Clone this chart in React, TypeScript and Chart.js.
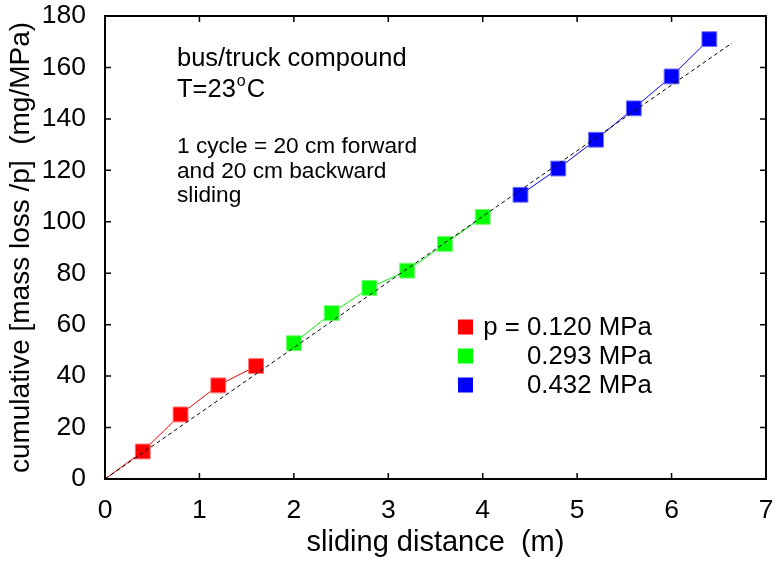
import React, { useEffect, useRef } from "react";
import { Chart, registerables } from "chart.js";

Chart.register(...registerables);

// ---- data ----
const xTickValues = [0, 1, 2, 3, 4, 5, 6, 7];
const yTickValues = [0, 20, 40, 60, 80, 100, 120, 140, 160, 180];

const redX = [0, 0.4, 0.8, 1.2, 1.6];
const redY = [0, 10.7, 25.1, 36.4, 43.9];

const greenX = [2.0, 2.4, 2.8, 3.2, 3.6, 4.0];
const greenY = [52.8, 64.5, 74.3, 81.0, 91.4, 101.9];

const blueX = [4.4, 4.8, 5.2, 5.6, 6.0, 6.4];
const blueY = [110.5, 120.7, 131.9, 144.1, 156.5, 171.0];

const fitX = [0, 6.64];
const fitY = [0, 169.5];

const seriesLabels = ["p = 0.120 MPa", "0.293 MPa", "0.432 MPa"];
const noteTop = ["bus/truck compound"];
const noteTemp = ["T=23", "o", "C"];
const noteCycle = ["1 cycle = 20 cm forward", "and 20 cm backward", "sliding"];

const xTitle = "sliding distance  (m)";
const yTitle = "cumulative [mass loss /p]  (mg/MPa)";

const FONT = "'Liberation Sans', Arial, Helvetica, sans-serif";

const toPts = (xs: number[], ys: number[]) => xs.map((x, i) => ({ x, y: ys[i] }));

const framePlugin = {
  id: "frameTicks",
  afterDatasetsDraw(chart: any) {
    const { ctx, chartArea, scales } = chart;
    const { left, right, top, bottom } = chartArea;
    ctx.save();
    ctx.strokeStyle = "#000";
    ctx.lineWidth = 1.5;
    const tl = 6;
    ctx.beginPath();
    xTickValues.forEach((v) => {
      const px = scales.x.getPixelForValue(v);
      if (v === xTickValues[0] || v === xTickValues[xTickValues.length - 1]) return;
      ctx.moveTo(px, bottom);
      ctx.lineTo(px, bottom - tl);
      ctx.moveTo(px, top);
      ctx.lineTo(px, top + tl);
    });
    yTickValues.forEach((v) => {
      const py = scales.y.getPixelForValue(v);
      if (v === yTickValues[0] || v === yTickValues[yTickValues.length - 1]) return;
      ctx.moveTo(left, py);
      ctx.lineTo(left + tl, py);
      ctx.moveTo(right, py);
      ctx.lineTo(right - tl, py);
    });
    ctx.stroke();
    ctx.lineWidth = 2;
    ctx.strokeRect(left, top, right - left, bottom - top);
    ctx.restore();
  },
};

const notesPlugin = {
  id: "notes",
  afterDraw(chart: any) {
    const { ctx } = chart;
    ctx.save();
    ctx.fillStyle = "#000";
    ctx.textBaseline = "alphabetic";
    ctx.textAlign = "left";
    const x0 = 177;
    ctx.font = `25.5px ${FONT}`;
    ctx.fillText(noteTop[0], x0, 66);
    // T=23°C with superscript o
    ctx.fillText(noteTemp[0], x0, 97);
    const w1 = ctx.measureText(noteTemp[0]).width;
    ctx.font = `16px ${FONT}`;
    ctx.fillText(noteTemp[1], x0 + w1 + 1, 86);
    const w2 = ctx.measureText(noteTemp[1]).width;
    ctx.font = `25.5px ${FONT}`;
    ctx.fillText(noteTemp[2], x0 + w1 + w2 + 2, 97);

    ctx.font = `22.7px ${FONT}`;
    const baselines = [153, 178, 202];
    noteCycle.forEach((t, i) => ctx.fillText(t, x0, baselines[i]));

    // legend
    const colors = ["#ff0000", "#00ff00", "#0000ff"];
    const rowsY = [327, 356, 385];
    const numX = 527;
    ctx.font = `25.8px ${FONT}`;
    ctx.textBaseline = "middle";
    seriesLabels.forEach((lab, i) => {
      ctx.fillStyle = colors[i];
      ctx.fillRect(458, rowsY[i] - 7.5, 15, 15);
      ctx.fillStyle = "#000";
      const m = lab.match(/^(.*?)(\d.*)$/);
      const pre = m ? m[1] : "";
      const num = m ? m[2] : lab;
      if (pre) {
        ctx.textAlign = "right";
        ctx.fillText(pre, numX, rowsY[i] + 1);
      }
      ctx.textAlign = "left";
      ctx.fillText(num, numX, rowsY[i] + 1);
    });
    ctx.restore();
  },
};

export default function App() {
  const ref = useRef<HTMLCanvasElement | null>(null);

  useEffect(() => {
    const canvas = ref.current;
    if (!canvas) return;
    const R = 10.5;
    const chart = new Chart(canvas, {
      type: "scatter",
      data: {
        datasets: [
          {
            label: "fit",
            data: toPts(fitX, fitY),
            showLine: true,
            borderColor: "#000",
            borderWidth: 1,
            borderDash: [4, 3],
            pointRadius: 0,
          },
          {
            label: seriesLabels[0],
            data: toPts(redX, redY),
            showLine: true,
            borderColor: "#ff0000",
            borderWidth: 1,
            backgroundColor: "#ff0000",
            pointStyle: "rect",
            pointRadius: redX.map((_, i) => (i === 0 ? 0 : R)),
            pointBackgroundColor: "#ff0000",
            pointBorderColor: "#ff7070",
            pointBorderWidth: 1,
          },
          {
            label: seriesLabels[1],
            data: toPts(greenX, greenY),
            showLine: true,
            borderColor: "#00ff00",
            borderWidth: 1,
            backgroundColor: "#00ff00",
            pointStyle: "rect",
            pointRadius: R,
            pointBackgroundColor: "#00ff00",
            pointBorderColor: "#70ff70",
            pointBorderWidth: 1,
          },
          {
            label: seriesLabels[2],
            data: toPts(blueX, blueY),
            showLine: true,
            borderColor: "#0000ff",
            borderWidth: 1,
            backgroundColor: "#0000ff",
            pointStyle: "rect",
            pointRadius: R,
            pointBackgroundColor: "#0000ff",
            pointBorderColor: "#7070ff",
            pointBorderWidth: 1,
          },
        ],
      },
      options: {
        animation: false,
        responsive: false,
        events: [],
        layout: { padding: { top: 16, right: 15, left: 0, bottom: 0 } },
        plugins: {
          legend: { display: false },
          tooltip: { enabled: false },
        },
        scales: {
          x: {
            type: "linear",
            min: 0,
            max: 7,
            afterFit: (s: any) => {
              s.height = 82;
              s.paddingLeft = 0;
              s.paddingRight = 0;
            },
            afterBuildTicks: (s: any) => {
              s.ticks = xTickValues.map((v) => ({ value: v }));
            },
            grid: { display: false, drawTicks: false },
            border: { display: false },
            ticks: {
              color: "#000",
              font: { family: FONT, size: 26.5 },
              padding: 16,
              maxRotation: 0,
            },
            title: {
              display: true,
              text: xTitle,
              color: "#000",
              font: { family: FONT, size: 29 },
              padding: { top: 0, bottom: 1 },
            },
          },
          y: {
            type: "linear",
            min: 0,
            max: 180,
            afterFit: (s: any) => {
              s.width = 105;
              s.paddingTop = 0;
              s.paddingBottom = 0;
            },
            afterBuildTicks: (s: any) => {
              s.ticks = yTickValues.map((v) => ({ value: v }));
            },
            grid: { display: false, drawTicks: false },
            border: { display: false },
            ticks: {
              color: "#000",
              font: { family: FONT, size: 26.5 },
              padding: 19,
            },
            title: {
              display: true,
              text: yTitle,
              color: "#000",
              font: { family: FONT, size: 28 },
              padding: { top: 4, bottom: 0 },
            },
          },
        },
      } as any,
      plugins: [framePlugin, notesPlugin],
    });
    return () => chart.destroy();
  }, []);

  return (
    <div style={{ position: "absolute", left: 0, top: 0, width: 781, height: 561, background: "#fff" }}>
      <canvas ref={ref} width={781} height={561} style={{ display: "block", width: 781, height: 561 }} />
    </div>
  );
}
